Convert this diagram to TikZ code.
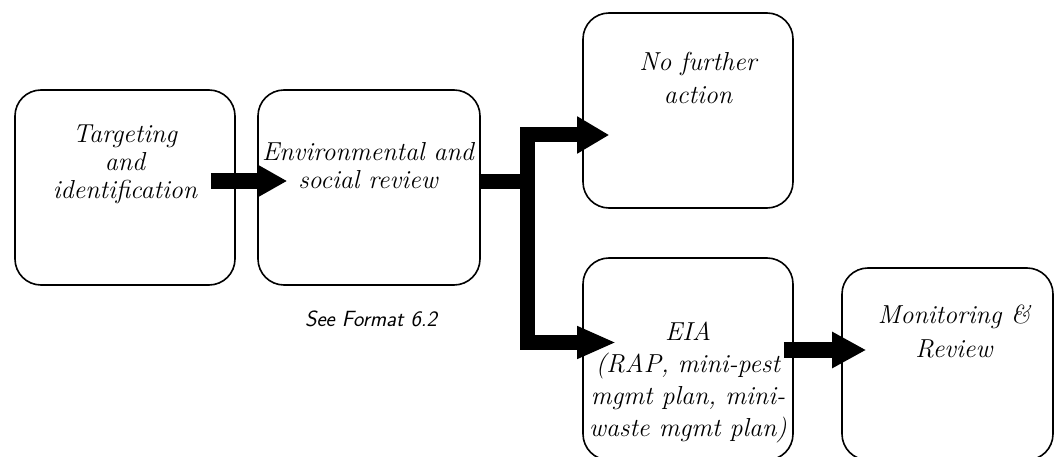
\documentclass[tikz,border=0pt]{standalone}
\usetikzlibrary{arrows.meta,calc}
\begin{document}
\begin{tikzpicture}[x=1pt,y=-1pt,
  box/.style={draw=black, line width=1.6pt, rounded corners=26pt, inner sep=0pt, fill=white},
  txt/.style={anchor=north, inner sep=0pt, align=center, font=\itshape},
  fat/.style={draw=black, line width=16pt, line join=miter}]
\useasboundingbox (0,0) rectangle (1055,457);
% boxes
\node[box, minimum width=220pt, minimum height=195pt] (b1) at (125,187.5) {};
\node[box, minimum width=222pt, minimum height=195pt] (b2) at (369,187.5) {};
\node[box, minimum width=210pt, minimum height=195pt] (b3) at (688,110.5) {};
\node[box, minimum width=210pt, minimum height=202pt] (b4) at (688,359) {};
\node[box, minimum width=211pt, minimum height=192pt] (b5) at (947.5,364) {};
% texts
\node[txt, font=\itshape\fontsize{26}{28}\selectfont] (t1) at (125,122.4) {\strut Targeting\\and\\identification};
\node[txt, font=\itshape\fontsize{26}{28}\selectfont] (t2) at (368,140.4) {\strut Environmental and\\social review};
\node[txt, font=\itshape\fontsize{26}{33}\selectfont] (t3) at (698,46.9) {\strut No further\\action};
\node[txt, font=\itshape\fontsize{26}{32}\selectfont] (t4) at (688,317.6) {\strut EIA\\(RAP, mini-pest\\mgmt plan, mini-\\waste mgmt plan)};
\node[txt, font=\itshape\fontsize{26}{34}\selectfont] (t5) at (954,299.2) {\strut Monitoring \&\\Review};
\node[anchor=base, inner sep=0pt, font=\sffamily\itshape\fontsize{22}{24}\selectfont] (note) at (371,326) {See Format 6.2};
% connector coordinates
\coordinate (a1s) at ($(b1.east)+(-25,-6.5)$);
\coordinate (a1e) at ($(b2.west)+(30,-6.5)$);
\coordinate (s0) at ($(b2.east)+(-2,-5.5)$);
\coordinate (j) at (527.5,182);
\coordinate (up) at ($(b3.west)+(27,24.5)$);
\coordinate (lo) at ($(b4.west)+(34,-16.5)$);
\coordinate (a3s) at ($(b4.east)+(-10,-9)$);
\coordinate (a3e) at ($(b5.west)+(25,-14)$);
% connectors
\draw[fat, -{Triangle[length=30pt, width=31pt]}] (a1s) -- (a1e);
\draw[line width=15pt, line join=miter] (s0) -- (j);
\draw[line width=15pt, line join=miter, -{Triangle[length=32pt, width=35pt]}] (j) |- (up);
\draw[line width=15pt, line join=miter, -{Triangle[length=39pt, width=30pt]}] (j) |- (lo);
\draw[fat, -{Triangle[length=34pt, width=34pt]}] (a3s) -- (a3e);
\end{tikzpicture}
\end{document}
